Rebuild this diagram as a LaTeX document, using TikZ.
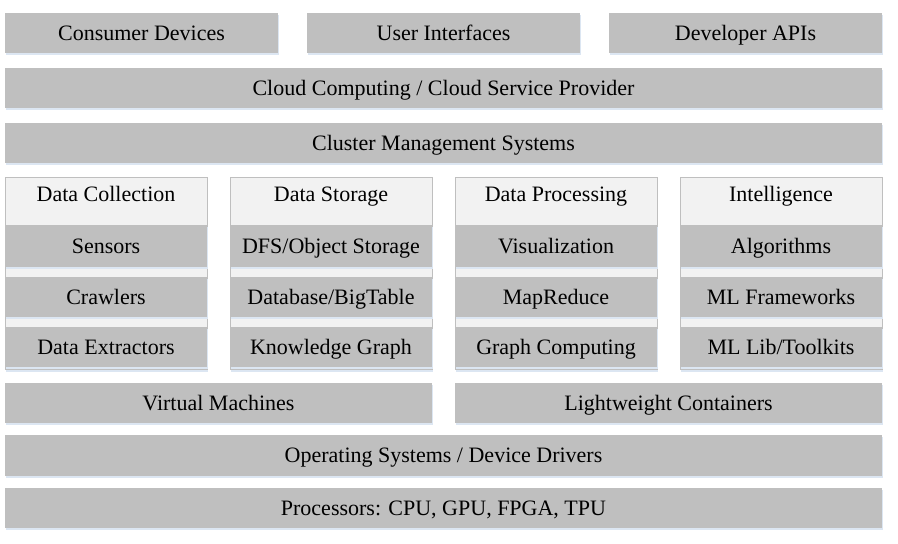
\documentclass[tikz,border=0pt]{standalone}
\usepackage{fontspec}
\setmainfont{Liberation Serif}
\usetikzlibrary{fit,shadows}
\definecolor{boxgray}{HTML}{BFBFBF}
\definecolor{panel}{HTML}{F2F2F2}
\definecolor{shade}{HTML}{DCE6F2}
\begin{document}
\begin{tikzpicture}[x=0.5pt,y=-0.5pt,
  txt/.style={font=\fontsize{11}{13}\selectfont, inner sep=0pt, text height=9.3pt, text depth=2pt},
  gbox/.style={fill=boxgray, draw=none, inner sep=0pt,
    general shadow={fill=shade, shadow xshift=0.4pt, shadow yshift=-0.9pt},
    label={[txt]center:#1}},
  pbox/.style={fill=panel, draw=boxgray, line width=0.5pt, inner sep=0pt,
    general shadow={fill=shade, shadow xshift=0.4pt, shadow yshift=-0.9pt}}]
\useasboundingbox (0,0) rectangle (898,544);
% top row
\node[gbox=Consumer Devices, fit={(5,13)(278,53)}] (cd) {};
\node[gbox=User Interfaces, fit={(307,13)(580,53)}] (ui) {};
\node[gbox=Developer APIs, fit={(609,13)(882,53)}] (api) {};
\node[gbox=Cloud Computing / Cloud Service Provider, fit={(5,68)(882,108)}] (cloud) {};
\node[gbox=Cluster Management Systems, fit={(5,123)(882,163)}] (cms) {};
% panels
\node[pbox, fit={(5,178)(207,370)}] (p1) {};
\node[pbox, fit={(230,178)(432,370)}] (p2) {};
\node[pbox, fit={(455,178)(657,370)}] (p3) {};
\node[pbox, fit={(680,178)(882,370)}] (p4) {};
\node[txt] (h1) at (106,194) {Data Collection};
\node[txt] (h2) at (331,194) {Data Storage};
\node[txt] (h3) at (556,194) {Data Processing};
\node[txt] (h4) at (781,194) {Intelligence};
% column 1
\node[gbox=Sensors, fit={(5,225)(207,267)}] (c11) {};
\node[gbox=Crawlers, fit={(5,277)(207,317)}] (c12) {};
\node[gbox=Data Extractors, fit={(5,327)(207,367)}] (c13) {};
% column 2
\node[gbox=DFS/Object Storage, fit={(230,225)(432,267)}] (c21) {};
\node[gbox=Database/BigTable, fit={(230,277)(432,317)}] (c22) {};
\node[gbox=Knowledge Graph, fit={(230,327)(432,367)}] (c23) {};
% column 3
\node[gbox=Visualization, fit={(455,225)(657,267)}] (c31) {};
\node[gbox=MapReduce, fit={(455,277)(657,317)}] (c32) {};
\node[gbox=Graph Computing, fit={(455,327)(657,367)}] (c33) {};
% column 4
\node[gbox=Algorithms, fit={(680,225)(882,267)}] (c41) {};
\node[gbox=ML Frameworks, fit={(680,277)(882,317)}] (c42) {};
\node[gbox=ML Lib/Toolkits, fit={(680,327)(882,367)}] (c43) {};
% lower rows
\node[gbox=Virtual Machines, fit={(5,383)(432,423)}] (vm) {};
\node[gbox=Lightweight Containers, fit={(455,383)(882,423)}] (lc) {};
\node[gbox=Operating Systems / Device Drivers, fit={(5,435)(882,476)}] (os) {};
\node[gbox={Processors: CPU, GPU, FPGA, TPU}, fit={(5,488)(882,528)}] (proc) {};
\end{tikzpicture}
\end{document}
